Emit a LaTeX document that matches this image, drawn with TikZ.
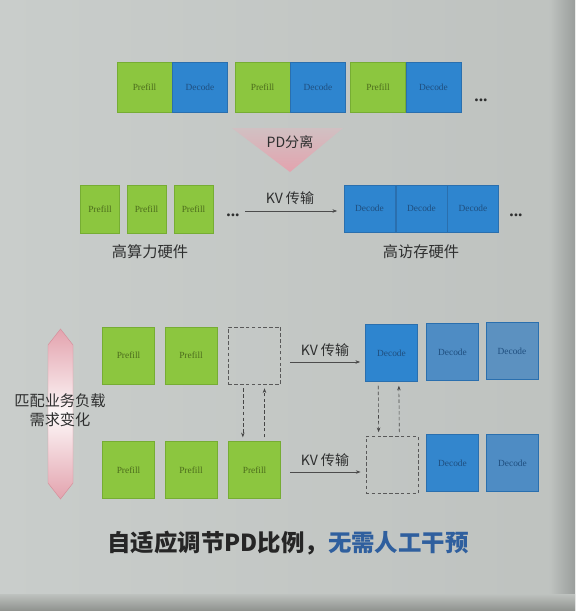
\documentclass[tikz,border=0pt]{standalone}
\usepackage{fontspec}
\setmainfont{Liberation Serif}
\newfontfamily\cjk{Noto Sans CJK SC}
\usetikzlibrary{arrows.meta,positioning}
\definecolor{bgslide}{HTML}{C9CDCB}
\definecolor{bgright}{HTML}{BEC2BF}
\definecolor{bgedge}{HTML}{9A9E9C}
\definecolor{bgbottom}{HTML}{8E918D}
\definecolor{pgreen}{HTML}{8CC63F}
\definecolor{pgreenline}{HTML}{76AD33}
\definecolor{ptext}{HTML}{4B6B1C}
\definecolor{dblue}{HTML}{2E85CF}
\definecolor{dbluefade}{HTML}{4E8CC4}
\definecolor{dbluepale}{HTML}{5C91C0}
\definecolor{dblueline}{HTML}{2A6FAE}
\definecolor{dtext}{HTML}{1F4E7E}
\definecolor{pinkarrow}{HTML}{E3A3AE}
\definecolor{pinkedge}{HTML}{D58E9A}
\definecolor{labelgray}{HTML}{2E2F2F}
\definecolor{capblue}{HTML}{2F5F9E}
\tikzset{
  prefillbox/.style={fill=pgreen, draw=pgreenline, line width=0.4pt, inner sep=0pt,
    text=ptext, font=\fontsize{8}{9}\selectfont},
  decodebox/.style={fill=dblue, draw=dblueline, line width=0.4pt, inner sep=0pt,
    text=dtext, font=\fontsize{8}{9}\selectfont},
  emptybox/.style={draw=gray!70!black, densely dashed, line width=0.5pt, inner sep=0pt},
  toprow/.style={minimum width=1.65cm, minimum height=1.5cm},
  midprefill/.style={minimum width=1.17cm, minimum height=1.44cm},
  middecode/.style={minimum width=1.53cm, minimum height=1.41cm},
  lowrow/.style={minimum width=1.57cm, minimum height=1.71cm},
  kvarrow/.style={draw=gray!60!black, line width=0.5pt, -{Stealth[length=4pt,width=3pt]}},
  swaparrow/.style={draw=gray!55!black, densely dashed, line width=0.5pt,
    -{Stealth[length=4pt,width=3pt]}, shorten >=0.12cm, shorten <=0.12cm},
  cnlabel/.style={text=labelgray, font=\cjk\fontsize{13}{16}\selectfont},
  kvlabel/.style={text=labelgray, font=\cjk\fontsize{12}{14}\selectfont},
  dots/.style={text=labelgray, font=\bfseries\fontsize{15}{15}\selectfont}
}
\begin{document}
\begin{tikzpicture}[x=0.03cm,y=-0.03cm]
\useasboundingbox (0,0) rectangle (575,611);
% background of the photographed slide
\shade[left color=bgslide, right color=bgright] (0,0) rectangle (575,611);
\shade[left color=bgright, right color=bgedge] (550,0) rectangle (575,611);
\shade[top color=bgright, bottom color=bgbottom] (0,594) rectangle (575,611);

% top row: mixed instances
\node[prefillbox, toprow] (tp1) at (144.5,87) {Prefill};
\node[decodebox, toprow, right=0pt of tp1] (td1) {Decode};
\node[prefillbox, toprow] (tp2) at (262.5,87) {Prefill};
\node[decodebox, toprow, right=0pt of tp2] (td2) {Decode};
\node[prefillbox, toprow] (tp3) at (378,87) {Prefill};
\node[decodebox, toprow, right=0pt of tp3] (td3) {Decode};
\node[dots] (tdots) at (481,100) {...};

% PD split
\shade[top color=bgslide!70!pinkarrow, bottom color=pinkarrow] (232,128) -- (343,128) -- (290,172) -- cycle;
\node[kvlabel] (split) at (290,142) {PD分离};

% middle row: separated hardware
\node[prefillbox, midprefill] (mp1) at (100,209) {Prefill};
\node[prefillbox, midprefill] (mp2) at (146.5,209) {Prefill};
\node[prefillbox, midprefill] (mp3) at (193.5,209) {Prefill};
\node[dots] (mdots1) at (233,215) {...};
\node[decodebox, middecode] (md1) at (369.5,208.5) {Decode};
\node[decodebox, middecode] (md2) at (421.5,208.5) {Decode};
\node[decodebox, middecode] (md3) at (473,208.5) {Decode};
\node[dots] (mdots2) at (516,215) {...};
\coordinate (mkv) at (245,211);
\draw[kvarrow, shorten >=0.2cm] (mkv) -- (md1.west |- mkv);
\node[kvlabel] (mkvl) at (290,198) {KV 传输};
\node[cnlabel] (compute) at (150,252) {高算力硬件};
\node[cnlabel] (memory) at (421,252) {高访存硬件};

% lower part: adaptive ratio
\shade[top color=pinkarrow, bottom color=pinkarrow, middle color=white!92!pinkarrow]
  (60.5,329) -- (73,345) -- (73,483) -- (60.5,499) -- (48,483) -- (48,345) -- cycle;
\draw[pinkedge, line width=0.4pt] (60.5,329) -- (73,345) -- (73,483) -- (60.5,499) -- (48,483) -- (48,345) -- cycle;
\node[cnlabel, align=center] (adapt) at (60,410) {匹配业务负载\\需求变化};

\node[prefillbox, lowrow] (pa1) at (128.5,355.5) {Prefill};
\node[prefillbox, lowrow] (pa2) at (191,355.5) {Prefill};
\node[emptybox, lowrow] (ea) at (254.5,355.5) {};
\node[decodebox, lowrow, fill=dblue] (da1) at (391.5,353) {Decode};
\node[decodebox, lowrow, fill=dbluefade] (da2) at (452.5,352) {Decode};
\node[decodebox, lowrow, fill=dbluepale] (da3) at (512,351) {Decode};

\node[prefillbox, lowrow] (pb1) at (128.5,470) {Prefill};
\node[prefillbox, lowrow] (pb2) at (191,470) {Prefill};
\node[prefillbox, lowrow] (pb3) at (254.5,470) {Prefill};
\node[emptybox, lowrow] (eb) at (392,465) {};
\node[decodebox, lowrow, fill=dblue!85!dbluefade] (db2) at (452.5,463) {Decode};
\node[decodebox, lowrow, fill=dbluefade] (db3) at (512.5,463) {Decode};

\coordinate (kva) at (290,362);
\draw[kvarrow, shorten >=0.15cm] (kva) -- (da1.west |- kva);
\node[kvlabel] (kval) at (325,350) {KV 传输};
\coordinate (kvb) at (290,472);
\draw[kvarrow, shorten >=0.15cm] (kvb) -- (eb.west |- kvb);
\node[kvlabel] (kvbl) at (325,460) {KV 传输};

\draw[swaparrow] ([xshift=-0.35cm]ea.south) -- ([xshift=-0.35cm]pb3.north);
\draw[swaparrow] ([xshift=0.3cm]pb3.north) -- ([xshift=0.3cm]ea.south);
\draw[swaparrow] ([xshift=-0.4cm]da1.south) -- ([xshift=-0.4cm]eb.north);
\draw[swaparrow] ([xshift=0.22cm]eb.north) -- ([xshift=0.22cm]da1.south);

\node[font=\cjk\bfseries\fontsize{20}{24}\selectfont, text=black!85] (caption) at (288,543)
  {自适应调节PD比例，\textcolor{capblue}{无需人工干预}};
\end{tikzpicture}
\end{document}
